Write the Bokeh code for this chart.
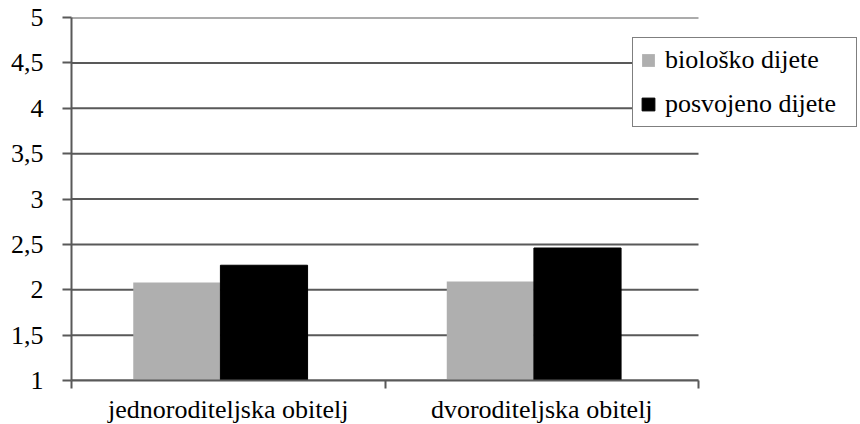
from bokeh.plotting import figure
from bokeh.models import Range1d, FixedTicker, Legend, LegendItem, ColumnDataSource
from bokeh.embed import file_html
from bokeh.resources import INLINE

categories = ["jednoroditeljska obitelj", "dvoroditeljska obitelj"]
series_names = ["biološko dijete", "posvojeno dijete"]
biolosko = [2.08, 2.09]
posvojeno = [2.27, 2.46]
y_ticks = [1, 1.5, 2, 2.5, 3, 3.5, 4, 4.5, 5]
y_tick_labels = ["1", "1,5", "2", "2,5", "3", "3,5", "4", "4,5", "5"]

FONT = "'Liberation Serif', 'Times New Roman', serif"
FSIZE = "26px"
GRID = "#595959"
bar_w = 0.278
center_off = 0.475

n = len(categories)
data_w = 627          # pixel width of the category area
frame_w = 786         # frame extends under the legend
x_end = n * frame_w / data_w

p = figure(width=860, height=424, frame_width=frame_w, frame_height=363,
           output_backend="svg", toolbar_location=None,
           x_range=Range1d(0, x_end), y_range=Range1d(1, 5),
           min_border_left=71, min_border_right=3, min_border_top=17, min_border_bottom=44)
p.outline_line_color = None
p.background_fill_color = "white"
p.border_fill_color = "white"

# horizontal grid lines spanning only the category area
p.segment(x0=[0] * len(y_ticks), x1=[n] * len(y_ticks), y0=y_ticks, y1=y_ticks,
          line_color=GRID, line_width=2)

centers = [i + center_off for i in range(n)]
src1 = ColumnDataSource(dict(x=[c - bar_w / 2 for c in centers], top=biolosko))
src2 = ColumnDataSource(dict(x=[c + bar_w / 2 for c in centers], top=posvojeno))
r1 = p.vbar(x="x", top="top", bottom=1, width=bar_w, source=src1,
            fill_color="#afafaf", line_color=None)
r2 = p.vbar(x="x", top="top", bottom=1, width=bar_w, source=src2,
            fill_color="#000000", line_color="#000000", line_width=1)

# y axis
p.yaxis.ticker = FixedTicker(ticks=y_ticks, minor_ticks=[])
p.yaxis.major_label_overrides = {t: l for t, l in zip(y_ticks, y_tick_labels)}
p.yaxis.major_label_text_font = FONT
p.yaxis.major_label_text_font_size = FSIZE
p.yaxis.major_label_text_color = "black"
p.yaxis.major_label_standoff = 19
p.yaxis.major_tick_in = 0
p.yaxis.major_tick_out = 9
p.yaxis.major_tick_line_color = GRID
p.yaxis.major_tick_line_width = 2
p.yaxis.axis_line_color = GRID
p.yaxis.axis_line_width = 2
p.yaxis.minor_tick_line_color = None

# x axis: labels at centers, ticks at boundaries
label_pos = [i + 0.5 for i in range(n)]
p.xaxis.bounds = (0, n)
p.xaxis.ticker = FixedTicker(ticks=label_pos, minor_ticks=list(range(n + 1)))
p.xaxis.major_label_overrides = {pos: c for pos, c in zip(label_pos, categories)}
p.xaxis.major_label_text_font = FONT
p.xaxis.major_label_text_font_size = FSIZE
p.xaxis.major_label_text_color = "black"
p.xaxis.major_label_standoff = 6
p.xaxis.major_tick_line_color = None
p.xaxis.minor_tick_in = 0
p.xaxis.minor_tick_out = 8
p.xaxis.minor_tick_line_color = GRID
p.xaxis.minor_tick_line_width = 2
p.xaxis.axis_line_color = GRID
p.xaxis.axis_line_width = 2

p.xgrid.grid_line_color = None
p.ygrid.grid_line_color = None

legend = Legend(items=[LegendItem(label=series_names[0], renderers=[r1]),
                       LegendItem(label=series_names[1], renderers=[r2])],
                location=(561, 253))
legend.label_text_font = FONT
legend.label_text_font_size = FSIZE
legend.label_text_color = "black"
legend.glyph_width = 16
legend.glyph_height = 16
legend.label_height = 30
legend.label_width = 184
legend.label_standoff = 9
legend.spacing = 14
legend.padding = 7
legend.margin = 0
legend.border_line_color = "black"
legend.border_line_width = 1
legend.background_fill_color = "white"
legend.background_fill_alpha = 1
p.add_layout(legend, "center")

open("out.html", "w").write(file_html(p, INLINE))
